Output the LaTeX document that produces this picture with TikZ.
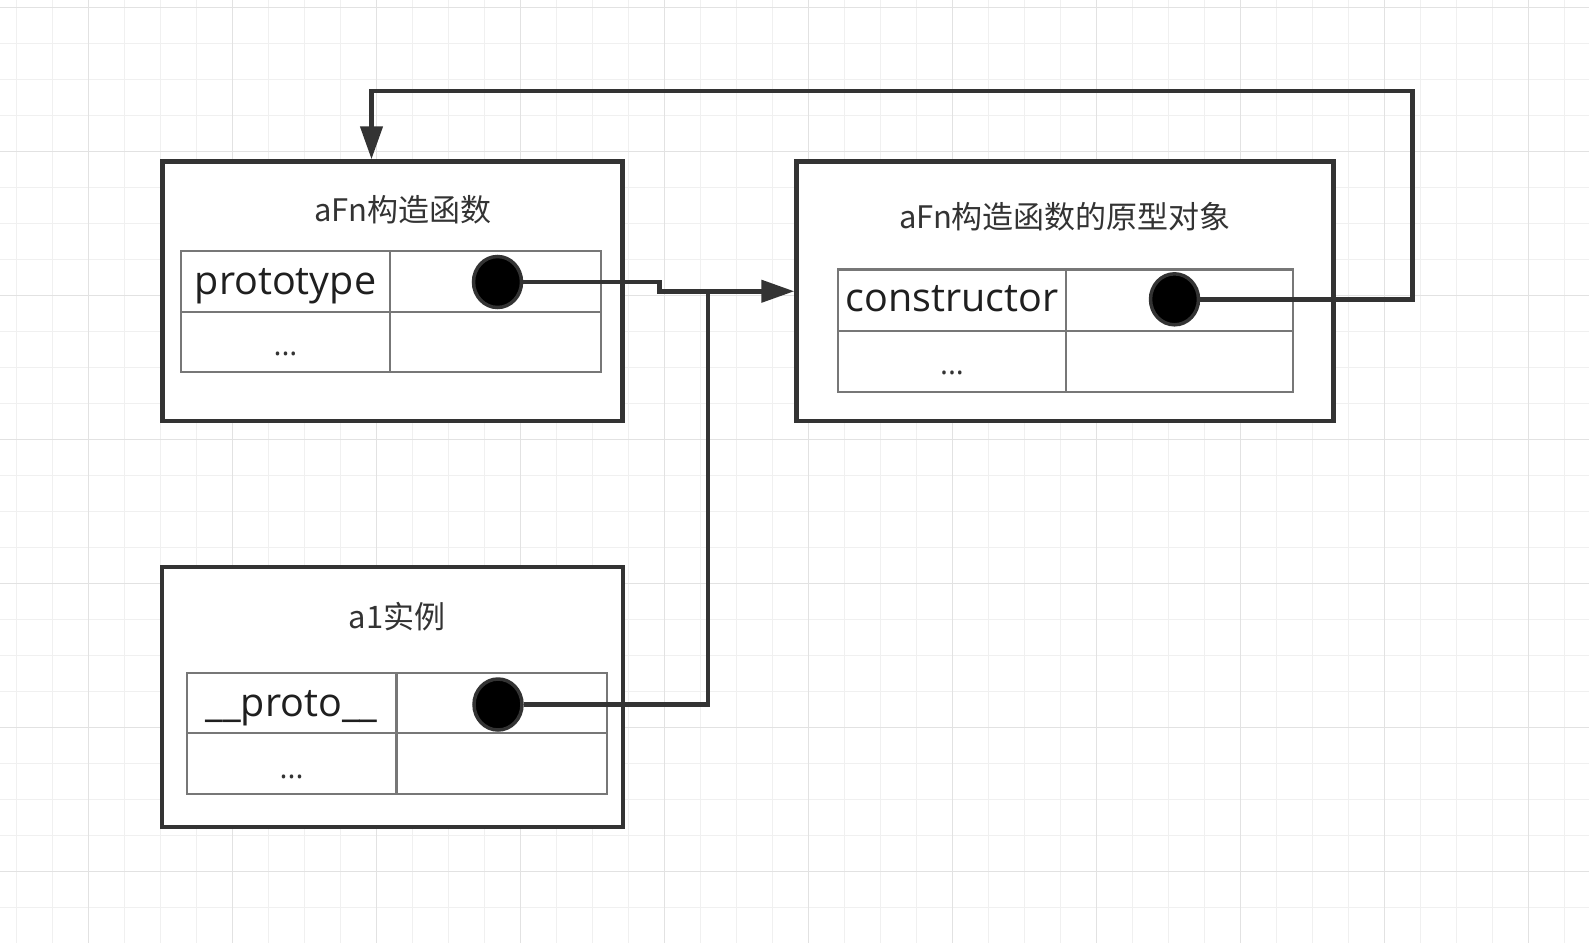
\documentclass[tikz,border=0pt]{standalone}
\usepackage{fontspec}
\setmainfont{Open Sans}
\newfontfamily\cjkfont{Noto Sans CJK SC}
\usetikzlibrary{arrows.meta,shapes.geometric}
\definecolor{ink}{HTML}{333333}
\definecolor{cellgray}{HTML}{777777}
\definecolor{gridminor}{HTML}{F0F0F0}
\definecolor{gridmajor}{HTML}{E2E2E2}
\begin{document}
\begin{tikzpicture}[x=1pt,y=1pt,
  objbox/.style={draw=ink, line width=4.5pt, fill=white, inner sep=0pt},
  cell/.style={draw=cellgray, line width=2.2pt, inner sep=0pt},
  dotnode/.style={ellipse, draw=ink, line width=3.5pt, fill=black, inner sep=0pt, minimum width=48pt, minimum height=51pt},
  titletext/.style={anchor=base, text=ink, inner sep=0pt, font=\cjkfont\fontsize{31}{37}\selectfont},
  celltext/.style={anchor=base, text=black!88, inner sep=0pt, font=\fontsize{39.5}{46}\selectfont},
  ellip/.style={anchor=base, text=ink, inner sep=0pt, font=\fontsize{30}{36}\selectfont},
  conn/.style={draw=ink, line width=4.5pt},
  arrowed/.style={-{Triangle[length=33pt,width=22pt]}}
]
\useasboundingbox (0,0) rectangle (1589,-943);
\fill[white] (0,0) rectangle (1589,-943);
% grid
\foreach \k in {0,...,43} { \draw[gridminor, line width=1.3pt] ({16.3+36*\k},0) -- ({16.3+36*\k},-943); }
\foreach \k in {0,...,25} { \draw[gridminor, line width=1.3pt] (0,{-7.3-36*\k}) -- (1589,{-7.3-36*\k}); }
\foreach \k in {0,...,10} { \draw[gridmajor, line width=1.3pt] ({88.3+144*\k},0) -- ({88.3+144*\k},-943); }
\foreach \k in {0,...,6} { \draw[gridmajor, line width=1.3pt] (0,{-7.3-144*\k}) -- (1589,{-7.3-144*\k}); }

% boxes
\node[objbox, minimum width=460pt, minimum height=259.5pt] (b1) at (392.5,-291.25) {};
\node[objbox, minimum width=537pt, minimum height=259.5pt] (b2) at (1065,-291.25) {};
\node[objbox, minimum width=461pt, minimum height=260pt] (b3) at (392.3,-697) {};

% tables
\node[cell, minimum width=209.6pt, minimum height=60.7pt] (t1a) at (285.5,-281.35) {};
\node[cell, minimum width=211pt, minimum height=60.7pt] (t1b) at (495.8,-281.35) {};
\node[cell, minimum width=209.6pt, minimum height=60pt] (t1c) at (285.5,-341.7) {};
\node[cell, minimum width=211pt, minimum height=60pt] (t1d) at (495.8,-341.7) {};

\node[cell, minimum width=227.5pt, minimum height=61.2pt] (t2a) at (951.95,-300.1) {};
\node[cell, minimum width=227.3pt, minimum height=61.2pt] (t2b) at (1179.35,-300.1) {};
\node[cell, minimum width=227.5pt, minimum height=61.3pt] (t2c) at (951.95,-361.35) {};
\node[cell, minimum width=227.3pt, minimum height=61.3pt] (t2d) at (1179.35,-361.35) {};

\node[cell, minimum width=209.6pt, minimum height=60pt] (t3a) at (291.6,-703.3) {};
\node[cell, minimum width=210.6pt, minimum height=60pt] (t3b) at (501.7,-703.3) {};
\node[cell, minimum width=209.6pt, minimum height=61pt] (t3c) at (291.6,-763.8) {};
\node[cell, minimum width=210.6pt, minimum height=61pt] (t3d) at (501.7,-763.8) {};

% titles
\node[titletext] (h1) at (402.8,-221.7) {aFn构造函数};
\node[titletext] (h2) at (1065,-228.3) {aFn构造函数的原型对象};
\node[titletext] (h3) at (397,-628.3) {a1实例};

% cell labels
\node[celltext] (l1) at (285.5,-294) {prototype};
\node[celltext] (l2) at (952,-311.7) {constructor};
\node[celltext] (l3) at (291.6,-716.7) {\_\_proto\_\_};
\node[ellip] (e1) at (285.5,-355.5) {...};
\node[ellip] (e2) at (952,-374.5) {...};
\node[ellip] (e3) at (291.6,-778) {...};

% dots
\node[dotnode] (d1) at (497.5,-282) {};
\node[dotnode] (d2) at (1174.5,-299.3) {};
\node[dotnode] (d3) at (498,-704.5) {};

% connector coordinates
\coordinate (j1) at (659.3,-282);
\coordinate (j2) at (659.3,-291.25);
\coordinate (j3) at (708,-704.5);
\coordinate (j4) at (708,-291.25);
\coordinate (r1) at (1412.7,-299.3);
\coordinate (r2) at (1412.7,-91);
\coordinate (r3) at (371.5,-91);

\draw[conn, arrowed] (d1.east) -- (j1) -- (j2) -- (b2.west);
\draw[conn] (d3.east) -- (j3) -- (j4);
\draw[conn, arrowed] (d2.east) -- (r1) -- (r2) -- (r3) -- (r3 |- b1.north);
\end{tikzpicture}
\end{document}
